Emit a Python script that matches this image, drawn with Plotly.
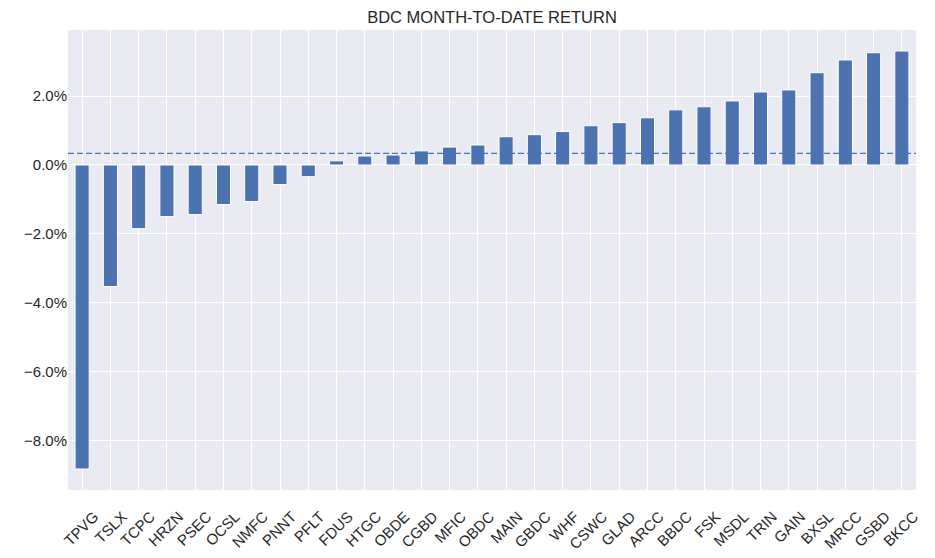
import plotly.graph_objects as go

tickers = ["TPVG", "TSLX", "TCPC", "HRZN", "PSEC", "OCSL", "NMFC", "PNNT", "PFLT", "FDUS",
           "HTGC", "OBDE", "CGBD", "MFIC", "OBDC", "MAIN", "GBDC", "WHF", "CSWC", "GLAD",
           "ARCC", "BBDC", "FSK", "MSDL", "TRIN", "GAIN", "BXSL", "MRCC", "GSBD", "BKCC"]
returns_pct = [-8.83, -3.53, -1.85, -1.50, -1.44, -1.15, -1.06, -0.57, -0.34, 0.12,
               0.26, 0.29, 0.41, 0.52, 0.58, 0.82, 0.88, 0.97, 1.14, 1.23,
               1.37, 1.60, 1.69, 1.86, 2.12, 2.18, 2.68, 3.05, 3.26, 3.31]
y_ticks = [-8, -6, -4, -2, 0, 2]
y_tick_labels = ["\u22128.0%", "\u22126.0%", "\u22124.0%", "\u22122.0%", "0.0%", "2.0%"]

mean_ret = sum(returns_pct) / len(returns_pct)

txt = "#262626"
font_family = "Liberation Sans, Arial, sans-serif"

fig = go.Figure()
fig.add_trace(go.Bar(
    x=tickers, y=returns_pct, width=0.5,
    marker=dict(color="#4C72B0", line=dict(color="white", width=1)),
    showlegend=False,
))
fig.add_shape(type="line", xref="paper", yref="y", x0=0, x1=1, y0=mean_ret, y1=mean_ret,
              line=dict(color="#4472C4", width=1.4, dash="6px,3px"), layer="above")

fig.update_layout(
    width=935, height=558,
    margin=dict(l=60, r=27, t=22, b=76),
    paper_bgcolor="white", plot_bgcolor="#EAEAF2",
    font=dict(family=font_family, size=15, color=txt),
    title=dict(text="BDC MONTH-TO-DATE RETURN", x=0.5, xref="paper", xanchor="center",
               y=1 - 9 / 558, yanchor="middle", font=dict(size=16.5, color=txt)),
    bargap=0.5,
)
fig.update_xaxes(
    type="category", range=[-0.5, len(tickers) - 0.5],
    showgrid=True, gridcolor="white", gridwidth=1,
    tickangle=-45, ticks="outside", ticklen=11, tickcolor="rgba(0,0,0,0)",
    showline=False, zeroline=False,
    tickfont=dict(size=15, color=txt), ticklabelshift=12,
)
fig.update_yaxes(
    range=[-9.44, 3.92], tickvals=y_ticks, ticktext=y_tick_labels,
    showgrid=True, gridcolor="white", gridwidth=1, zeroline=False,
    ticks="", showline=False, tickfont=dict(size=15, color=txt),
)

fig.write_html("out.html")
